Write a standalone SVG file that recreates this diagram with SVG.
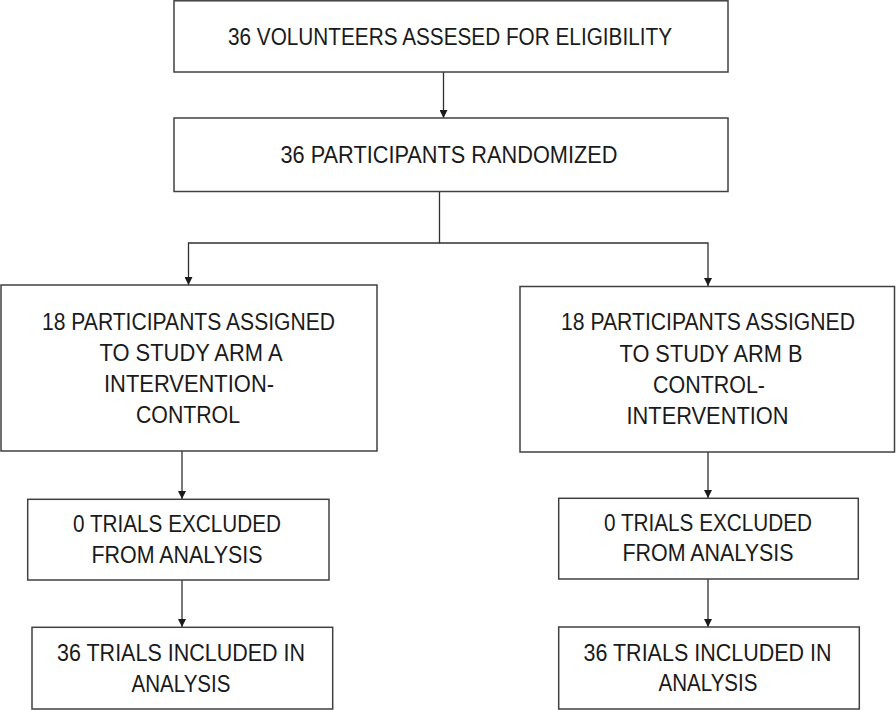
<svg xmlns="http://www.w3.org/2000/svg" width="896" height="710" viewBox="0 0 896 710">
<style>
.box{fill:#ffffff;stroke:#404040;stroke-width:1.5}
.t{font-family:"Liberation Sans",Arial,sans-serif;font-size:23.5px;fill:#1a1a1a;text-anchor:middle}
.c{fill:none;stroke:#303030;stroke-width:1.3}
</style>
<defs>
<marker id="ah" viewBox="0 0 10 10" refX="10" refY="5" markerWidth="8" markerHeight="8" markerUnits="userSpaceOnUse" orient="auto">
<path d="M0,0 L10,5 L0,10 z" fill="#1a1a1a"/>
</marker>
</defs>
<rect width="896" height="710" fill="#ffffff"/>
<g id="connectors">
<line class="c" x1="443.5" y1="72" x2="443.5" y2="118" marker-end="url(#ah)"/>
<polyline class="c" points="439.5,191.5 439.5,243 188.5,243 188.5,285" marker-end="url(#ah)"/>
<polyline class="c" points="439.5,243 708,243 708,286" marker-end="url(#ah)"/>
<line class="c" x1="182" y1="451" x2="182" y2="499" marker-end="url(#ah)"/>
<line class="c" x1="182" y1="580" x2="182" y2="627" marker-end="url(#ah)"/>
<line class="c" x1="708" y1="452" x2="708" y2="498" marker-end="url(#ah)"/>
<line class="c" x1="708" y1="579" x2="708" y2="627" marker-end="url(#ah)"/>
</g>
<g id="n1">
<rect class="box" x="174" y="0.8" width="554" height="71.2"/>
<text class="t" x="450" y="45" textLength="444" lengthAdjust="spacingAndGlyphs">36 VOLUNTEERS ASSESED FOR ELIGIBILITY</text>
</g>
<g id="n2">
<rect class="box" x="174" y="118" width="554" height="73.5"/>
<text class="t" x="449" y="162.7" textLength="337" lengthAdjust="spacingAndGlyphs">36 PARTICIPANTS RANDOMIZED</text>
</g>
<g id="n3">
<rect class="box" x="1" y="285" width="376" height="166"/>
<text class="t" x="188.5" y="330" textLength="293" lengthAdjust="spacingAndGlyphs">18 PARTICIPANTS ASSIGNED</text>
<text class="t" x="191" y="361" textLength="183" lengthAdjust="spacingAndGlyphs">TO STUDY ARM A</text>
<text class="t" x="189" y="392" textLength="170" lengthAdjust="spacingAndGlyphs">INTERVENTION-</text>
<text class="t" x="188" y="423" textLength="104" lengthAdjust="spacingAndGlyphs">CONTROL</text>
</g>
<g id="n4">
<rect class="box" x="520" y="286.5" width="374.5" height="165.5"/>
<text class="t" x="708" y="330" textLength="294" lengthAdjust="spacingAndGlyphs">18 PARTICIPANTS ASSIGNED</text>
<text class="t" x="711" y="361.7" textLength="183" lengthAdjust="spacingAndGlyphs">TO STUDY ARM B</text>
<text class="t" x="709" y="392.5" textLength="112" lengthAdjust="spacingAndGlyphs">CONTROL-</text>
<text class="t" x="707.5" y="424.3" textLength="162" lengthAdjust="spacingAndGlyphs">INTERVENTION</text>
</g>
<g id="n5">
<rect class="box" x="27.7" y="499.3" width="301.3" height="80.7"/>
<text class="t" x="177" y="531.7" textLength="208" lengthAdjust="spacingAndGlyphs">0 TRIALS EXCLUDED</text>
<text class="t" x="177" y="562.7" textLength="171" lengthAdjust="spacingAndGlyphs">FROM ANALYSIS</text>
</g>
<g id="n6">
<rect class="box" x="558.7" y="498.3" width="299.6" height="80.7"/>
<text class="t" x="708" y="530.7" textLength="208" lengthAdjust="spacingAndGlyphs">0 TRIALS EXCLUDED</text>
<text class="t" x="708" y="560.7" textLength="171" lengthAdjust="spacingAndGlyphs">FROM ANALYSIS</text>
</g>
<g id="n7">
<rect class="box" x="32" y="627.3" width="300.7" height="81.7"/>
<text class="t" x="181" y="660.7" textLength="248" lengthAdjust="spacingAndGlyphs">36 TRIALS INCLUDED IN</text>
<text class="t" x="181" y="691.7" textLength="99" lengthAdjust="spacingAndGlyphs">ANALYSIS</text>
</g>
<g id="n8">
<rect class="box" x="558.7" y="627" width="300.6" height="82"/>
<text class="t" x="707.5" y="660.7" textLength="248" lengthAdjust="spacingAndGlyphs">36 TRIALS INCLUDED IN</text>
<text class="t" x="708" y="690.7" textLength="99" lengthAdjust="spacingAndGlyphs">ANALYSIS</text>
</g>
</svg>
